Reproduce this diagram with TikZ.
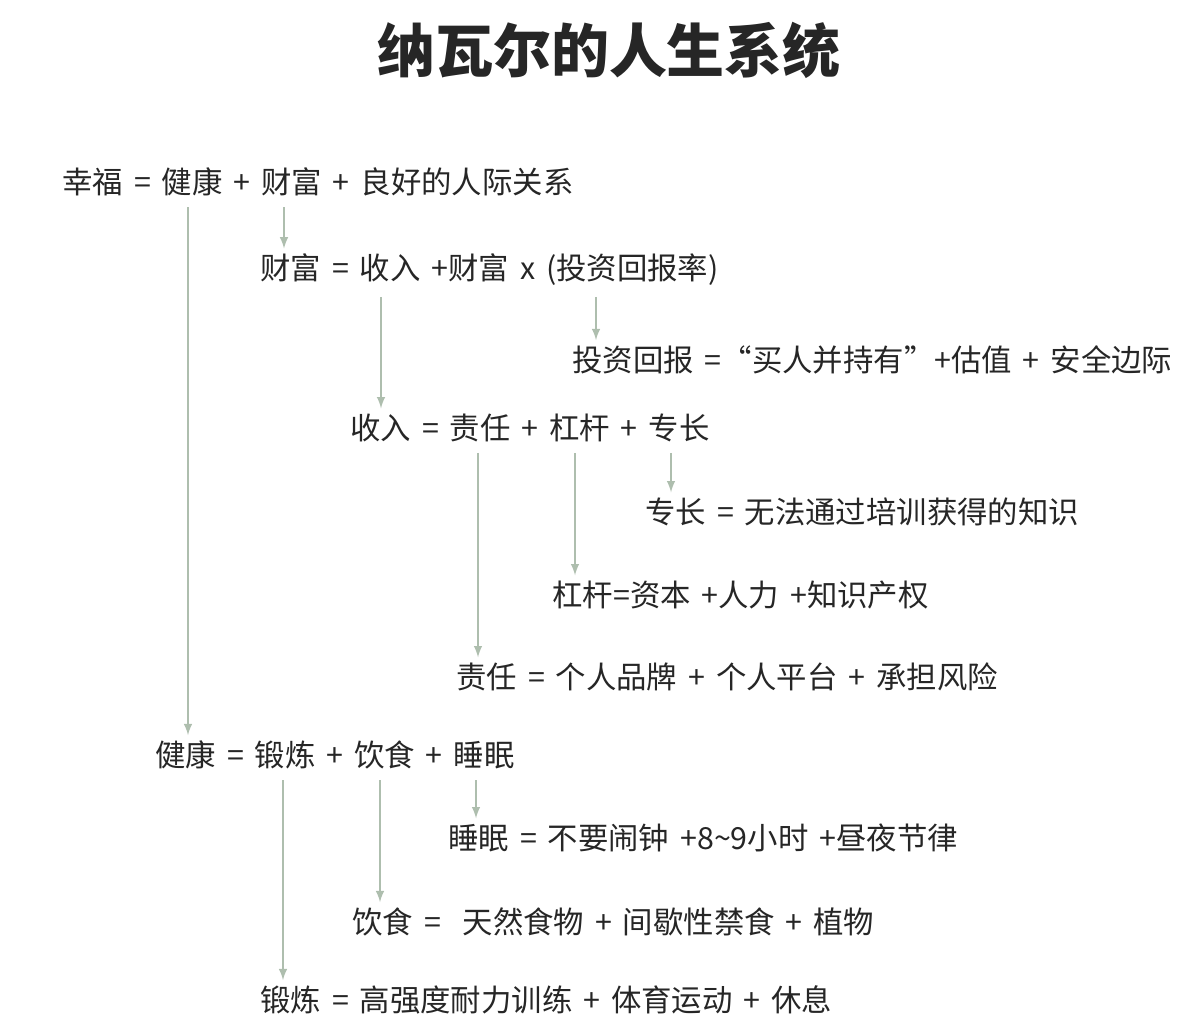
\documentclass[tikz,border=0pt]{standalone}
\usepackage{fontspec}
\setmainfont{Noto Sans CJK SC}[WordSpace=1.6]
\usetikzlibrary{positioning}

\begin{document}
\begin{tikzpicture}[x=0.02cm, y=-0.02cm]
    \tikzstyle{item} = [anchor=west, inner sep=0pt, font=\fontsize{17.3}{20}\selectfont, text=black!85];
    \tikzstyle{link} = [draw=black!25!green!15!gray!55, line width=1.2pt, -latex];

    \useasboundingbox (0, 0) rectangle (1200, 1026);

    \node[font=\fontsize{33}{36}\selectfont\bfseries, text=black!85] (title) at (609, 50) {纳瓦尔的人生系统};

    \node[item] (happy) at (62, 182) {幸福 = 健康 + 财富 + 良好的人际关系};
    \node[item] (wealth) at (260, 270) {财富 = 收入 +财富 x (投资回报率)};
    \node[item] (invest) at (572, 360) {投资回报 =“买人并持有”+估值 + 安全边际};
    \node[item] (income) at (350, 428) {收入 = 责任 + 杠杆 + 专长};
    \node[item] (skill) at (645, 512) {专长 = 无法通过培训获得的知识};
    \node[item] (lever) at (552, 595) {杠杆=资本 +人力 +知识产权};
    \node[item] (duty) at (456, 677) {责任 = 个人品牌 + 个人平台 + 承担风险};
    \node[item] (health) at (155, 755) {健康 = 锻炼 + 饮食 + 睡眠};
    \node[item] (sleep) at (448, 838) {睡眠 = 不要闹钟 +8\char`\~9小时 +昼夜节律};
    \node[item] (diet) at (352, 922) {饮食 = \ 天然食物 + 间歇性禁食 + 植物};
    \node[item] (sport) at (260, 1000) {锻炼 = 高强度耐力训练 + 体育运动 + 休息};

    % happiness branch
    \draw[link] ([yshift=-6pt]happy.south -| 188, 0) -- ([yshift=3pt]health.north -| 188, 0);
    \draw[link] ([yshift=-6pt]happy.south -| 284, 0) -- ([yshift=3pt]wealth.north -| 284, 0);

    % wealth branch
    \draw[link] ([yshift=-6pt]wealth.south -| 381, 0) -- ([yshift=3pt]income.north -| 381, 0);
    \draw[link] ([yshift=-6pt]wealth.south -| 596, 0) -- ([yshift=3pt]invest.north -| 596, 0);

    % income branch
    \draw[link] ([yshift=-6pt]income.south -| 478, 0) -- ([yshift=3pt]duty.north -| 478, 0);
    \draw[link] ([yshift=-6pt]income.south -| 575, 0) -- ([yshift=3pt]lever.north -| 575, 0);
    \draw[link] ([yshift=-6pt]income.south -| 671, 0) -- ([yshift=3pt]skill.north -| 671, 0);

    % health branch
    \draw[link] ([yshift=-6pt]health.south -| 283, 0) -- ([yshift=3pt]sport.north -| 283, 0);
    \draw[link] ([yshift=-6pt]health.south -| 380, 0) -- ([yshift=3pt]diet.north -| 380, 0);
    \draw[link] ([yshift=-6pt]health.south -| 476, 0) -- ([yshift=3pt]sleep.north -| 476, 0);
\end{tikzpicture}
\end{document}
